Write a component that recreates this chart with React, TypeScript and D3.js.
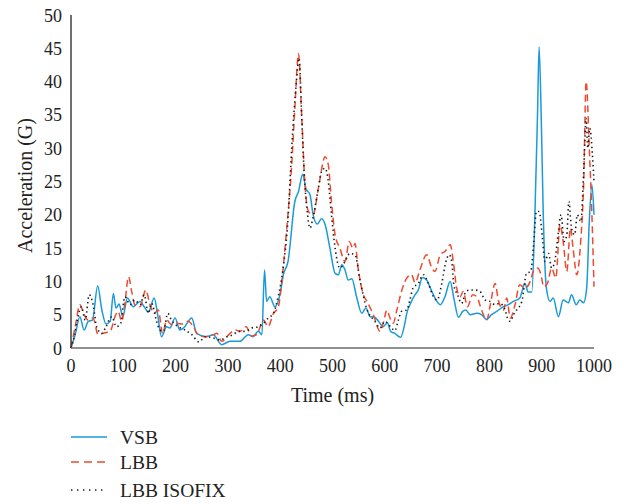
import React from "react";
import * as d3 from "d3";

const yTicks = [0, 5, 10, 15, 20, 25, 30, 35, 40, 45, 50];
const xTicks = [0, 100, 200, 300, 400, 500, 600, 700, 800, 900, 1000];
const seriesNames = ["VSB", "LBB", "LBB ISOFIX"];

const vsbTime = [0, 8, 17, 25, 33, 41, 51, 59, 67, 75, 81, 86, 92, 99, 108, 119, 132, 140, 148, 159, 165, 173, 183, 189, 199, 208, 215, 231, 240, 259, 272, 288, 304, 323, 339, 348, 358, 365, 370, 374, 380, 390, 400, 406, 415, 428, 435, 443, 449, 457, 463, 471, 479, 486, 495, 505, 511, 518, 524, 530, 537, 546, 556, 564, 572, 579, 588, 597, 605, 611, 619, 630, 637, 642, 651, 658, 664, 672, 680, 690, 696, 706, 715, 725, 732, 741, 749, 755, 763, 776, 785, 795, 804, 814, 827, 836, 846, 858, 868, 874, 881, 887, 892, 895, 899, 903, 909, 916, 922, 932, 941, 951, 957, 966, 973, 980, 986, 991, 996, 1000];
const vsbValue = [0, 2.0, 4.7, 2.7, 4.0, 4.2, 9.3, 5.7, 3.6, 4.0, 8.2, 6.0, 6.6, 4.7, 7.5, 6.2, 7.0, 6.2, 5.4, 7.5, 5.4, 1.7, 3.2, 3.0, 4.5, 2.7, 3.0, 4.5, 2.2, 1.7, 2.0, 0.5, 1.0, 1.0, 2.0, 1.7, 2.5, 2.0, 11.7, 7.0, 7.7, 6.2, 8.2, 11, 13, 22, 23.5, 26.1, 24, 23, 20, 18.6, 19.4, 18.5, 15, 11.2, 11, 12.5, 11.7, 10.2, 10.4, 7.7, 5.2, 6.0, 4.7, 4.7, 4.0, 3.2, 3.8, 2.5, 2.2, 1.6, 3.2, 5.2, 7.0, 8.0, 8.7, 10.6, 10.2, 8.5, 7.5, 6.5, 7.7, 10, 7.5, 4.6, 5.5, 5.7, 5.0, 5.2, 5.0, 4.3, 5.0, 5.5, 6.2, 6.5, 7.0, 7.5, 9.7, 8.4, 8.4, 20, 35, 45.2, 35, 20, 9, 7.0, 7.5, 4.7, 7.2, 6.8, 8.0, 6.5, 7.2, 6.8, 9, 19, 24.5, 20];

const lbbTime = [0, 8, 17, 25, 33, 42, 52, 61, 75, 84, 90, 97, 103, 110, 116, 122, 132, 143, 151, 159, 167, 175, 183, 192, 202, 213, 224, 234, 243, 256, 272, 279, 288, 304, 314, 323, 335, 345, 355, 368, 377, 387, 396, 403, 412, 422, 428, 435, 441, 447, 454, 463, 473, 486, 492, 498, 505, 514, 524, 532, 539, 543, 549, 559, 566, 578, 591, 597, 604, 609, 616, 623, 632, 642, 651, 658, 667, 680, 690, 696, 706, 715, 725, 731, 737, 744, 750, 758, 768, 776, 785, 795, 801, 811, 817, 827, 833, 840, 849, 858, 868, 878, 884, 892, 898, 904, 911, 919, 927, 935, 941, 948, 955, 960, 967, 975, 980, 985, 991, 996, 1000];
const lbbValue = [0, 3.2, 6.5, 5.0, 4.2, 4.5, 2.0, 2.2, 2.5, 4.7, 5.5, 4.0, 6.7, 10.7, 8.5, 6.5, 6.2, 8.7, 6.5, 5.2, 5.7, 2.2, 4.2, 3.5, 3.7, 3.6, 4.0, 3.2, 2.0, 1.7, 2.0, 2.2, 1.0, 2.2, 2.7, 2.5, 3.2, 1.8, 2.0, 4.2, 3.2, 5.2, 6.0, 10, 17.5, 27.5, 36, 44.2, 35, 25, 20.5, 20, 24, 28.7, 27.5, 22, 17, 15, 13, 16, 15, 15.7, 12, 8, 7, 5, 2.5, 3.7, 5.7, 4.7, 3.7, 5.7, 8.5, 10.5, 11, 9.8, 11.7, 14, 12, 11.5, 14, 14.5, 15.5, 13, 9.2, 7.7, 8.5, 6.2, 8, 7.7, 5.7, 4.2, 6.2, 9.7, 7.2, 5.7, 7.5, 4.5, 6.5, 9.5, 9, 10, 11.5, 12, 11.2, 9.2, 9.7, 12, 10.5, 18.5, 16, 11.5, 18, 15, 11, 16.5, 24, 40, 30, 20, 9.2];

const isofixTime = [0, 6, 12, 20, 27, 35, 43, 49, 59, 67, 78, 87, 95, 103, 113, 122, 132, 140, 148, 154, 163, 170, 177, 185, 192, 205, 218, 231, 245, 256, 272, 285, 298, 310, 320, 333, 345, 358, 368, 377, 387, 396, 406, 415, 422, 431, 436, 441, 446, 451, 457, 463, 473, 479, 486, 492, 498, 505, 514, 524, 533, 543, 553, 565, 581, 591, 600, 613, 619, 626, 632, 642, 648, 654, 664, 674, 683, 693, 700, 709, 716, 723, 728, 732, 739, 747, 755, 762, 772, 782, 792, 801, 811, 820, 830, 836, 840, 846, 852, 862, 871, 879, 884, 890, 895, 902, 906, 913, 919, 925, 932, 937, 943, 948, 952, 957, 963, 968, 975, 980, 985, 988, 992, 997, 1000];
const isofixValue = [0, 1.7, 4.2, 6.2, 4.2, 8.0, 6.2, 3.2, 2.2, 3.2, 4.7, 3.2, 3.7, 7.7, 6.5, 7.2, 6.5, 8.0, 5.2, 6.7, 4.2, 2.7, 2.5, 5.2, 4.2, 3.2, 2.7, 2.0, 0.9, 1.7, 1.5, 1.2, 1.7, 2.0, 2.5, 2.5, 3.0, 3.2, 3.7, 4.5, 5.2, 7.7, 12.2, 19.5, 30, 40, 43.5, 35, 26, 21, 18, 19.7, 24, 26.5, 27, 25, 20, 15, 12, 13, 14.2, 14, 10, 6, 4, 3, 4, 3, 2.6, 4.2, 5.5, 5.7, 7.2, 9, 9.7, 11, 9.7, 7.7, 7.2, 9.7, 12.7, 14, 13, 9.5, 8, 6.7, 8.5, 8.7, 8.7, 8.5, 7.2, 7, 6.5, 6.7, 5.7, 4.2, 4.0, 5, 5.7, 7, 11.2, 11.5, 15, 20.5, 20.5, 16, 13, 14.2, 12, 13, 17.5, 20, 16, 17, 22, 18, 17, 20, 19, 26, 34.5, 30, 33, 29, 25];

const W = 631;
const H = 504;
const left = 71;
const right = 594;
const top = 15;
const bottom = 348;
const FONT = "'Liberation Serif', 'DejaVu Serif', serif";

export default function App() {
  const x = d3.scaleLinear().domain([0, 1000]).range([left, right]);
  const y = d3.scaleLinear().domain([0, 50]).range([bottom, top]);
  const line = d3
    .line<[number, number]>()
    .x((d) => x(d[0]))
    .y((d) => y(d[1]))
    .curve(d3.curveMonotoneX);

  const zip = (t: number[], v: number[]) => t.map((tt, i) => [tt, v[i]] as [number, number]);

  const series = [
    { name: seriesNames[0], data: zip(vsbTime, vsbValue), color: "#1a9ad8", dash: "none", width: 1.5 },
    { name: seriesNames[1], data: zip(lbbTime, lbbValue), color: "#ef4a30", dash: "7,4", width: 1.5 },
    { name: seriesNames[2], data: zip(isofixTime, isofixValue), color: "#1a1a1a", dash: "1.4,3.2", width: 1.6 },
  ];

  const legendY = [437, 462, 490];

  return (
    <svg width={W} height={H} style={{ position: "absolute", left: 0, top: 0, background: "#fff" }} fontFamily={FONT}>
      <rect width={W} height={H} fill="#fff" />
      {series.map((s) => (
        <path
          key={s.name}
          d={line(s.data) || ""}
          fill="none"
          stroke={s.color}
          strokeWidth={s.width}
          strokeDasharray={s.dash}
          strokeLinejoin="round"
        />
      ))}
      <line x1={left} x2={left} y1={top} y2={bottom} stroke="#222" strokeWidth={1.3} />
      <line x1={left} x2={right} y1={bottom} y2={bottom} stroke="#6b6b6b" strokeWidth={1.5} />
      {yTicks.map((t) => (
        <text key={"y" + t} x={62} y={y(t) + 6.5} textAnchor="end" fontSize={18} fill="#222">
          {t}
        </text>
      ))}
      {xTicks.map((t) => (
        <text key={"x" + t} x={x(t)} y={372} textAnchor="middle" fontSize={18} fill="#222">
          {t}
        </text>
      ))}
      <text x={(left + right) / 2} y={402} textAnchor="middle" fontSize={20} fill="#222">
        Time (ms)
      </text>
      <text
        transform={`translate(32, ${(top + bottom) / 2 + 4}) rotate(-90)`}
        textAnchor="middle"
        fontSize={20}
        fill="#222"
      >
        Acceleration (G)
      </text>
      {series.map((s, i) => (
        <g key={"lg" + s.name}>
          <line
            x1={71}
            x2={107}
            y1={legendY[i]}
            y2={legendY[i]}
            stroke={s.color}
            strokeWidth={s.width}
            strokeDasharray={i === 1 ? "8,5" : i === 2 ? "1.4,4.6" : "none"}
          />
          <text x={120} y={legendY[i] + 6.5} fontSize={19.5} fill="#222">
            {s.name}
          </text>
        </g>
      ))}
    </svg>
  );
}
